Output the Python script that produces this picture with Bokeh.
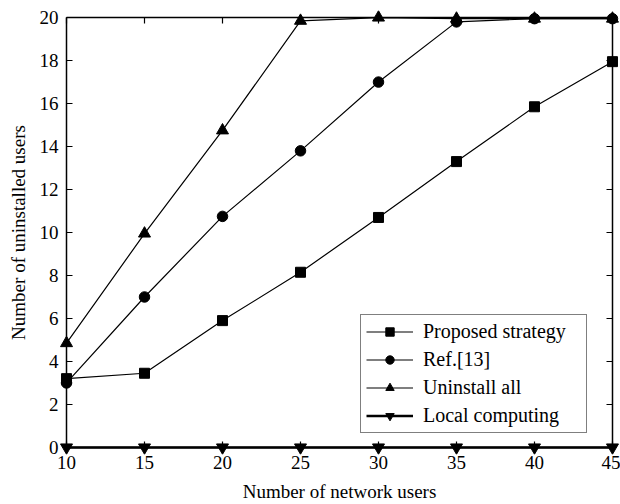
from bokeh.plotting import figure
from bokeh.models import Range1d, LinearAxis, FixedTicker, Legend, LegendItem, CustomJSTickFormatter
from bokeh.embed import file_html
from bokeh.resources import INLINE

users = [10, 15, 20, 25, 30, 35, 40, 45]
proposed = [3.2, 3.45, 5.9, 8.15, 10.7, 13.3, 15.85, 17.95]
ref13 = [3.0, 7.0, 10.75, 13.8, 17.0, 19.8, 19.95, 19.95]
uninstall_all = [4.85, 9.95, 14.75, 19.85, 20.0, 19.95, 19.95, 19.95]
local_computing = [0, 0, 0, 0, 0, 0, 0, 0]
x_ticks = [10, 15, 20, 25, 30, 35, 40, 45]
y_ticks = [0, 2, 4, 6, 8, 10, 12, 14, 16, 18, 20]
x_lim = (10, 45)
y_lim = (0, 20)

FONT = "Times New Roman"

p = figure(width=620, height=504, output_backend="svg", toolbar_location=None,
           x_range=Range1d(9.55, 45.45), y_range=Range1d(-0.33, 20.33),
           x_axis_location=None, y_axis_location=None,
           min_border_left=59, min_border_right=1, min_border_top=10, min_border_bottom=50)
p.outline_line_color = None
p.grid.visible = False
p.background_fill_color = "white"


def frame_axis(ticks, loc, bounds):
    ax = LinearAxis(ticker=FixedTicker(ticks=ticks), fixed_location=loc, bounds=bounds,
                    formatter=CustomJSTickFormatter(code="return ''"))
    ax.major_tick_in = 6
    ax.major_tick_out = 0
    ax.minor_tick_in = 0
    ax.minor_tick_out = 0
    ax.axis_line_width = 1.5
    ax.major_tick_line_width = 1.2
    return ax


def label_axis(ticks, label):
    ax = LinearAxis(ticker=FixedTicker(ticks=ticks), axis_label=label)
    ax.axis_line_color = None
    ax.major_tick_line_color = None
    ax.minor_tick_line_color = None
    ax.major_tick_in = 0
    ax.major_tick_out = 0
    ax.minor_tick_in = 0
    ax.minor_tick_out = 0
    ax.major_label_text_font = FONT
    ax.major_label_text_font_size = "19px"
    ax.major_label_text_color = "black"
    ax.axis_label_text_font = FONT
    ax.axis_label_text_font_size = "19px"
    ax.axis_label_text_font_style = "normal"
    ax.axis_label_text_color = "black"
    return ax


p.add_layout(frame_axis(x_ticks, y_lim[0], x_lim), "below")
p.add_layout(frame_axis(y_ticks, x_lim[0], y_lim), "left")
p.add_layout(frame_axis(x_ticks, y_lim[1], x_lim), "above")
p.add_layout(frame_axis(y_ticks, x_lim[1], y_lim), "right")

xlab = label_axis(x_ticks, "Number of network users")
xlab.major_label_standoff = 1
xlab.axis_label_standoff = 9
ylab = label_axis(y_ticks, "Number of uninstalled users")
ylab.major_label_standoff = 1
ylab.axis_label_standoff = 8
p.add_layout(xlab, "below")
p.add_layout(ylab, "left")

items = []
l1 = p.line(users, proposed, line_color="black", line_width=1.2)
m1 = p.scatter(users, proposed, marker="square", size=10, color="black")
items.append(LegendItem(label="Proposed strategy", renderers=[l1, m1]))
l2 = p.line(users, ref13, line_color="black", line_width=1.2)
m2 = p.scatter(users, ref13, marker="circle", size=10.5, color="black")
items.append(LegendItem(label="Ref.[13]", renderers=[l2, m2]))
l3 = p.line(users, uninstall_all, line_color="black", line_width=1.2)
m3 = p.scatter(users, uninstall_all, marker="triangle", size=12, color="black")
items.append(LegendItem(label="Uninstall all", renderers=[l3, m3]))
l4 = p.line(users, local_computing, line_color="black", line_width=2.5)
m4 = p.scatter(users, local_computing, marker="inverted_triangle", size=12, color="black")
items.append(LegendItem(label="Local computing", renderers=[l4, m4]))

legend = Legend(items=items, location=(301, 21), label_text_font=FONT,
                label_text_font_size="20px", label_text_color="black",
                glyph_width=47, glyph_height=21, label_standoff=10,
                spacing=5, padding=5, margin=0, label_height=21, label_width=158,
                border_line_color="black", border_line_width=1,
                background_fill_alpha=1.0)
p.add_layout(legend, "center")

open("out.html", "w").write(file_html(p, INLINE))
